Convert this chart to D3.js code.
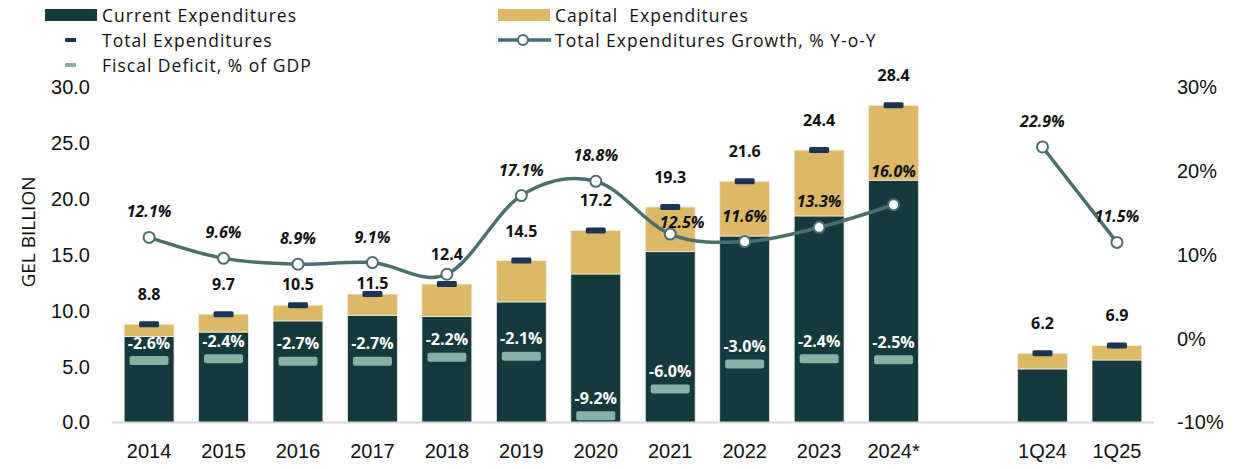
<!DOCTYPE html>
<html>
<head>
<meta charset="utf-8">
<script src="https://cdn.jsdelivr.net/npm/d3@7"></script>
<style>
  body { margin: 0; background: #fff; }
  svg { font-family: "Open Sans", "Noto Sans", sans-serif; }
</style>
</head>
<body>
<svg id="chart" width="1253" height="469"></svg>
<script>
// ---- data ----
var years = ["2014", "2015", "2016", "2017", "2018", "2019", "2020", "2021", "2022", "2023", "2024*"];
var quarters = ["1Q24", "1Q25"];

var currentExp = [7.7, 8.1, 9.1, 9.6, 9.5, 10.8, 13.3, 15.3, 16.7, 18.5, 21.7, 4.8, 5.6];
var capitalExp = [1.1, 1.6, 1.4, 1.9, 2.9, 3.7, 3.9, 4.0, 4.9, 5.9, 6.7, 1.4, 1.3];
var totalExp = [8.8, 9.7, 10.5, 11.5, 12.4, 14.5, 17.2, 19.3, 21.6, 24.4, 28.4, 6.2, 6.9];

var growthYears = [12.1, 9.6, 8.9, 9.1, 7.7, 17.1, 18.8, 12.5, 11.6, 13.3, 16.0];
var growthQuarters = [22.9, 11.5];
var growthNoLabel = ["2018"];

var deficit = [-2.6, -2.4, -2.7, -2.7, -2.2, -2.1, -9.2, -6.0, -3.0, -2.4, -2.5];

var leftTicks = [0, 5, 10, 15, 20, 25, 30];
var rightTicks = [-10, 0, 10, 20, 30];

var colors = {
  current: "#143a3e",
  capital: "#dcb867",
  total: "#1c3557",
  deficit: "#8aaea8",
  line: "#4b6e6f"
};

// hyphen instead of unicode minus, like the original
var fmt1 = function(v) { return d3.format(".1f")(v).replace("\u2212", "-"); };

// ---- layout ----
var svg = d3.select("#chart");
var gap = " ";
var cats = years.concat([gap], quarters);
var allCats = years.concat(quarters);

var x = d3.scaleBand().domain(cats).range([112, 1154]).paddingInner(0.33).paddingOuter(0.163);
var yL = d3.scaleLinear().domain([0, 30]).range([422.5, 87.5]);
var yR = d3.scaleLinear().domain([-10, 30]).range([422.5, 87.5]);
var bw = x.bandwidth();
var cx = function(c) { return x(c) + bw / 2; };

// axes
var gL = svg.append("g").attr("transform", "translate(112,0)")
  .call(d3.axisLeft(yL).tickValues(leftTicks).tickSize(0).tickPadding(22).tickFormat(fmt1));
var gR = svg.append("g").attr("transform", "translate(1154,0)")
  .call(d3.axisRight(yR).tickValues(rightTicks).tickSize(0).tickPadding(23).tickFormat(function(d) { return d + "%"; }));
var gX = svg.append("g").attr("transform", "translate(0,422.5)")
  .call(d3.axisBottom(x).tickSize(0).tickPadding(21));
[gL, gR, gX].forEach(function(g) {
  g.select(".domain").remove();
  g.selectAll("text").attr("fill", "#111").style("font-size", "20px").style("font-family", "inherit");
});

svg.append("text")
  .attr("transform", "translate(28,232) rotate(-90)")
  .attr("text-anchor", "middle")
  .attr("dominant-baseline", "central")
  .style("font-size", "19px")
  .attr("fill", "#111")
  .text("GEL BILLION");

// bars
var bars = svg.append("g");
allCats.forEach(function(c, i) {
  bars.append("rect")
    .attr("x", x(c)).attr("width", bw)
    .attr("y", yL(currentExp[i])).attr("height", yL(0) - yL(currentExp[i]))
    .attr("fill", colors.current).attr("stroke", "#eeeae0").attr("stroke-width", 0.8);
  bars.append("rect")
    .attr("x", x(c)).attr("width", bw)
    .attr("y", yL(currentExp[i] + capitalExp[i])).attr("height", yL(currentExp[i]) - yL(currentExp[i] + capitalExp[i]))
    .attr("fill", colors.capital).attr("stroke", "#f3eee2").attr("stroke-width", 0.8);
});

// baseline
svg.append("line")
  .attr("x1", 112).attr("x2", 1154).attr("y1", yL(0)).attr("y2", yL(0))
  .attr("stroke", "#d9d9d9").attr("stroke-width", 2);

// fiscal deficit markers
var def = svg.append("g");
years.forEach(function(c, i) {
  def.append("rect")
    .attr("x", cx(c) - 19.5).attr("width", 39)
    .attr("y", yR(deficit[i]) - 4.5).attr("height", 9).attr("rx", 2)
    .attr("fill", colors.deficit);
  def.append("text")
    .attr("x", cx(c)).attr("y", yR(deficit[i]) - 18)
    .attr("text-anchor", "middle").attr("dominant-baseline", "central")
    .attr("fill", "#fff").style("font-size", "16px").style("font-weight", 700)
    .text(fmt1(deficit[i]) + "%");
});

// growth line
var line = d3.line().x(function(d) { return cx(d.c); }).y(function(d) { return yR(d.v); });
var gPts = years.map(function(c, i) { return { c: c, v: growthYears[i] }; });
var qPts = quarters.map(function(c, i) { return { c: c, v: growthQuarters[i] }; });
var lg = svg.append("g");
lg.append("path").attr("d", line.curve(d3.curveCardinal.tension(0))(gPts))
  .attr("fill", "none").attr("stroke", colors.line).attr("stroke-width", 3.5);
lg.append("path").attr("d", line.curve(d3.curveLinear)(qPts))
  .attr("fill", "none").attr("stroke", colors.line).attr("stroke-width", 3.5);

var pts = gPts.concat(qPts);

// total expenditure markers + labels
var tot = svg.append("g");
allCats.forEach(function(c, i) {
  var top = yL(totalExp[i]);
  tot.append("rect")
    .attr("x", cx(c) - 10).attr("width", 20)
    .attr("y", top - 3).attr("height", 6).attr("rx", 1.5)
    .attr("fill", colors.total);
  var ly = top - 30;
  var gy = yR(pts[i].v);
  if (Math.abs(ly - gy) < 15) ly = gy + 20;   // keep clear of the growth point
  tot.append("text")
    .attr("x", cx(c)).attr("y", ly)
    .attr("text-anchor", "middle").attr("dominant-baseline", "central")
    .attr("fill", "#111").style("font-size", "16px").style("font-weight", 700)
    .text(fmt1(totalExp[i]));
});

// growth points + labels
pts.forEach(function(p, i) {
  lg.append("circle").attr("cx", cx(p.c)).attr("cy", yR(p.v)).attr("r", 5.5)
    .attr("fill", "#fff").attr("stroke", colors.line).attr("stroke-width", 2);
  if (growthNoLabel.indexOf(p.c) >= 0) return;
  var ly = yR(p.v) - 26, lx = cx(p.c);
  if (Math.abs(ly - yL(totalExp[i])) < 12) { ly = yR(p.v) - 12; lx += 12; }
  var seam = yL(currentExp[i]);
  if (Math.abs(ly - seam) < 10) ly = seam - 9;
  lg.append("text")
    .attr("x", lx).attr("y", ly)
    .attr("text-anchor", "middle").attr("dominant-baseline", "central")
    .attr("fill", "#111").style("font-size", "16px").style("font-weight", 700).style("font-style", "italic")
    .text(fmt1(p.v) + "%");
});

// legend
var legend = [
  { label: "Current Expenditures", type: "box", color: colors.current, x: 45, y: 15 },
  { label: "Capital  Expenditures", type: "box", color: colors.capital, x: 498, y: 15 },
  { label: "Total Expenditures", type: "dash", color: colors.total, x: 45, y: 40 },
  { label: "Total Expenditures Growth, % Y-o-Y", type: "line", color: colors.line, x: 498, y: 40 },
  { label: "Fiscal Deficit, % of GDP", type: "dash", color: colors.deficit, x: 45, y: 65 }
];
var lgd = svg.append("g");
legend.forEach(function(d) {
  if (d.type === "box") {
    lgd.append("rect").attr("x", d.x).attr("y", d.y - 6).attr("width", 52).attr("height", 12).attr("fill", d.color);
  } else if (d.type === "dash") {
    lgd.append("rect").attr("x", d.x + 20).attr("y", d.y - 2).attr("width", 11).attr("height", 4).attr("rx", 1).attr("fill", d.color);
  } else {
    lgd.append("line").attr("x1", d.x).attr("x2", d.x + 53).attr("y1", d.y).attr("y2", d.y)
      .attr("stroke", d.color).attr("stroke-width", 3.5);
    lgd.append("circle").attr("cx", d.x + 25).attr("cy", d.y).attr("r", 5)
      .attr("fill", "#fff").attr("stroke", d.color).attr("stroke-width", 2);
  }
  lgd.append("text").attr("x", d.x + 57).attr("y", d.y)
    .attr("dominant-baseline", "central").attr("fill", "#111")
    .style("white-space", "pre")
    .style("letter-spacing", "1px")
    .style("font-size", "17.5px").text(d.label);
});
</script>
</body>
</html>
